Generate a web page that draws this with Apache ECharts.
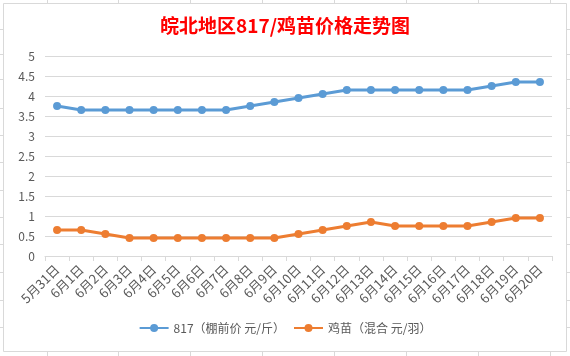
<!DOCTYPE html>
<html>
<head>
<meta charset="utf-8">
<script src="https://cdn.jsdelivr.net/npm/echarts@6/dist/echarts.min.js"></script>
<style>
html,body{margin:0;padding:0;background:#fff;}
#c{width:570px;height:356px;}
</style>
</head>
<body>
<div id="c"></div>
<script>
var titleText = '皖北地区817/鸡苗价格走势图';
var categories = ['5月31日','6月1日','6月2日','6月3日','6月4日','6月5日','6月6日','6月7日','6月8日','6月9日','6月10日','6月11日','6月12日','6月13日','6月14日','6月15日','6月16日','6月17日','6月18日','6月19日','6月20日'];
var seriesNames = ['817（棚前价 元/斤）', '鸡苗（混合 元/羽）'];
var price817 = [3.75,3.65,3.65,3.65,3.65,3.65,3.65,3.65,3.75,3.85,3.95,4.05,4.15,4.15,4.15,4.15,4.15,4.15,4.25,4.35,4.35];
var chickPrice = [0.65,0.65,0.55,0.45,0.45,0.45,0.45,0.45,0.45,0.45,0.55,0.65,0.75,0.85,0.75,0.75,0.75,0.75,0.85,0.95,0.95];
var yMin = 0, yMax = 5, yStep = 0.5;

var font = '"Noto Sans CJK SC", "Noto Sans", sans-serif';
var cellColor = '#d9d9d9';
var graphics = [];
graphics.push({type:'rect', shape:{x:3.5,y:3.5,width:563,height:348}, style:{fill:null, stroke:cellColor, lineWidth:1}, silent:true});
[47,118,190,262,334,406,478,550].forEach(function(x){
  graphics.push({type:'line', shape:{x1:x+0.5,y1:0,x2:x+0.5,y2:3}, style:{stroke:cellColor,lineWidth:1}, silent:true});
  graphics.push({type:'line', shape:{x1:x+0.5,y1:352,x2:x+0.5,y2:356}, style:{stroke:cellColor,lineWidth:1}, silent:true});
});
[29,54,79,108,135,162,190,217,244,272,300,327].forEach(function(y){
  graphics.push({type:'line', shape:{x1:567,y1:y+0.5,x2:570,y2:y+0.5}, style:{stroke:cellColor,lineWidth:1}, silent:true});
  graphics.push({type:'line', shape:{x1:0,y1:y+0.5,x2:3,y2:y+0.5}, style:{stroke:cellColor,lineWidth:1}, silent:true});
});

var chart = echarts.init(document.getElementById('c'), null, {renderer:'canvas'});
chart.setOption({
  animation:false,
  backgroundColor:'#fff',
  textStyle:{fontFamily:font},
  title:{text:titleText, left:'center', top:11, textStyle:{color:'#ff0000', fontSize:19, fontWeight:'bold', fontFamily:font}},
  grid:{left:45, right:18, top:56, bottom:100, containLabel:false},
  legend:{
    data:seriesNames, bottom:17, left:'center', itemWidth:29, itemHeight:10, itemGap:8,
    textStyle:{color:'#595959', fontSize:12, fontFamily:font}
  },
  xAxis:{
    type:'category', data:categories, boundaryGap:true,
    axisLine:{lineStyle:{color:'#d9d9d9', width:1}},
    axisTick:{show:true, length:5, lineStyle:{color:'#d9d9d9'}},
    axisLabel:{rotate:45, interval:0, color:'#595959', fontSize:13, margin:11, fontFamily:font},
    splitLine:{show:false}
  },
  yAxis:{
    type:'value', min:yMin, max:yMax, interval:yStep,
    axisLine:{show:false}, axisTick:{show:false},
    axisLabel:{color:'#595959', fontSize:12, margin:10, fontFamily:font},
    splitLine:{lineStyle:{color:'#d9d9d9', width:1}}
  },
  series:[
    {name:seriesNames[0], type:'line', data:price817, symbol:'circle', symbolSize:8,
     lineStyle:{color:'#5b9bd5', width:2.8}, itemStyle:{color:'#5b9bd5'}},
    {name:seriesNames[1], type:'line', data:chickPrice, symbol:'circle', symbolSize:8,
     lineStyle:{color:'#ed7d31', width:2.8}, itemStyle:{color:'#ed7d31'}}
  ],
  graphic:graphics
});
</script>
</body>
</html>
